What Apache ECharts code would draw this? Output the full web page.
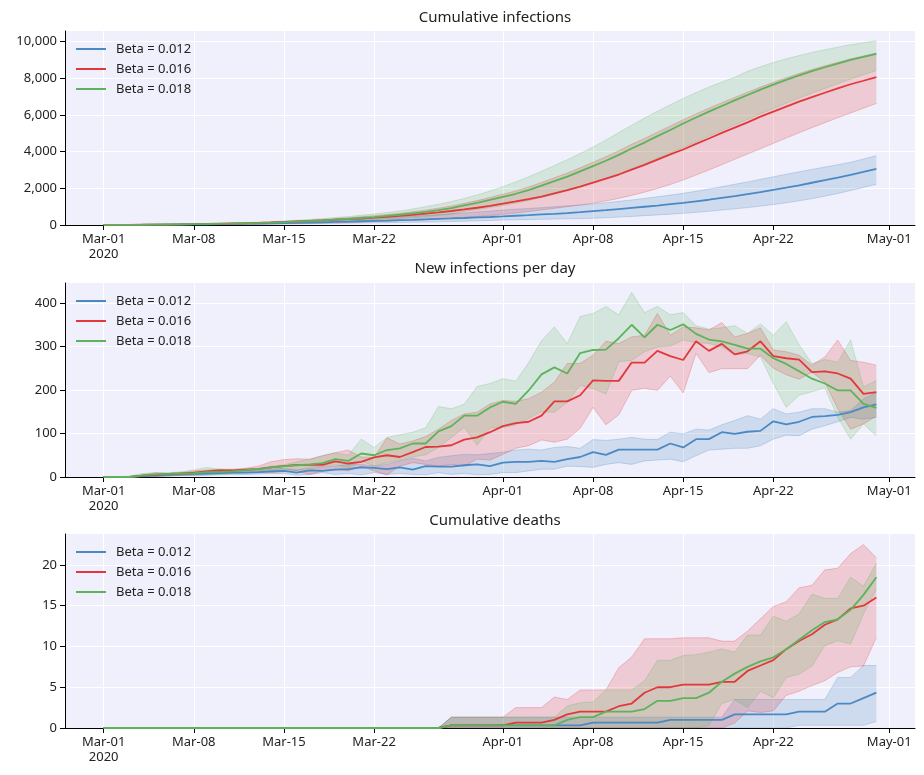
<!DOCTYPE html>
<html>
<head>
<meta charset="utf-8">
<script src="https://cdn.jsdelivr.net/npm/echarts@6/dist/echarts.min.js"></script>
<style>
html,body{margin:0;padding:0;background:#fff;}
#c{width:924px;height:775px;}
</style>
</head>
<body>
<div id="c"></div>
<script>
// ---------- data ----------
// x categories: one per day, 2020-02-27 .. 2020-05-03 (data cover 2020-03-01 .. 2020-04-30)
const axisStart = new Date(Date.UTC(2020, 1, 27));
const dayCategories = Array.from({length: 67}, (_, i) => new Date(axisStart.getTime() + i * 86400000).toISOString().slice(0, 10));
const dataStartIndex = 3; // 2020-03-01
const xTickDates = ['2020-03-01', '2020-03-08', '2020-03-15', '2020-03-22', '2020-04-01', '2020-04-08', '2020-04-15', '2020-04-22', '2020-05-01'];
const xTickLabels = ['Mar-01\n2020', 'Mar-08', 'Mar-15', 'Mar-22', 'Apr-01', 'Apr-08', 'Apr-15', 'Apr-22', 'May-01'];
const seriesNames = ['Beta = 0.012', 'Beta = 0.016', 'Beta = 0.018'];
const panelTitles = ['Cumulative infections', 'New infections per day', 'Cumulative deaths'];
const yTicks1 = [0, 2000, 4000, 6000, 8000, 10000];
const yTicks2 = [0, 100, 200, 300, 400];
const yTicks3 = [0, 5, 10, 15, 20];

// Panel 1: cumulative infections
const cumInfB012 = [10,10,10,12,16,21,27,34,42,51,61,71,82,95,109,119,134,148,165,183,205,226,244,266,283,308,332,356,383,412,437,470,505,540,577,612,653,699,756,807,870,933,996,1059,1136,1204,1291,1378,1481,1580,1684,1790,1918,2039,2166,2304,2444,2587,2736,2896,3063];
const cumInfB012Lo = [6,6,6,7,9,12,15,19,23,28,33,38,43,50,57,62,70,77,86,95,106,116,126,137,148,160,173,188,205,225,248,273,285,297,310,323,337,350,364,395,430,468,508,550,593,636,690,750,815,880,950,1030,1115,1210,1320,1440,1570,1720,1880,2050,2220];
const cumInfB012Hi = [14,14,14,18,24,32,41,51,63,76,90,105,121,140,160,180,203,228,255,285,330,365,400,440,480,525,570,615,660,710,760,815,860,900,945,990,1040,1090,1145,1215,1290,1365,1450,1540,1630,1727,1840,1960,2090,2220,2350,2490,2630,2770,2900,3030,3160,3290,3420,3600,3780];
const cumInfB016 = [10,10,10,13,18,25,33,43,56,71,86,103,121,143,168,196,224,252,288,319,354,399,449,495,552,621,691,764,850,941,1044,1161,1285,1412,1553,1727,1901,2089,2311,2532,2753,3016,3279,3569,3847,4116,4428,4718,5024,5306,5595,5907,6185,6458,6728,6969,7212,7450,7676,7867,8062];
const cumInfB016Lo = [5,5,5,6,8,11,14,18,23,29,35,42,50,59,70,82,95,109,125,142,162,184,208,235,265,298,334,373,416,463,520,580,650,730,820,910,1000,1090,1190,1310,1450,1610,1790,1990,2210,2450,2720,3000,3290,3580,3870,4160,4450,4740,5030,5310,5580,5850,6110,6370,6630];
const cumInfB016Hi = [13,13,13,17,24,32,42,53,66,80,96,116,138,164,193,226,262,300,345,392,450,508,573,643,725,808,915,1035,1180,1330,1500,1680,1860,2070,2320,2580,2830,3120,3420,3720,4050,4400,4720,5060,5400,5740,6060,6370,6670,6960,7240,7520,7780,8030,8260,8480,8680,8870,9060,9220,9380];
const cumInfB018 = [10,10,10,13,19,26,34,43,54,66,79,95,113,135,160,187,217,249,289,327,381,431,493,558,635,712,812,924,1064,1204,1364,1536,1704,1907,2145,2398,2636,2921,3213,3506,3825,4175,4496,4846,5184,5535,5864,6180,6492,6796,7091,7386,7659,7919,8162,8388,8603,8802,9001,9169,9328];
const cumInfB018Lo = [6,6,6,8,12,16,21,27,34,42,51,61,73,87,103,121,141,162,187,213,245,279,318,360,408,460,520,590,740,840,950,1070,1200,1340,1500,1680,1870,2080,2300,2540,2790,3060,3340,3630,3930,4230,4540,4850,5160,5460,5760,6060,6350,6640,6920,7190,7450,7710,7960,8200,8430];
const cumInfB018Hi = [15,15,16,20,27,36,46,58,72,88,106,128,153,183,218,258,302,350,405,462,528,600,680,770,870,1000,1130,1280,1450,1640,1850,2090,2350,2630,2930,3240,3560,3900,4250,4640,5040,5440,5830,6200,6560,6900,7220,7520,7800,8060,8380,8630,8860,9060,9240,9410,9560,9700,9830,9940,10050];

// Panel 2: new infections per day
const newInfB012 = [0,0,0,2,4,5,6,7,8,9,10,10,11,13,14,10,15,14,17,18,22,21,18,22,17,25,24,24,27,29,25,33,35,35,37,35,41,46,57,51,63,63,63,63,77,68,87,87,103,99,104,106,128,121,127,138,140,143,149,160,167];
const newInfB012Lo = [0,0,0,0,1,2,3,3,4,5,6,6,7,8,8,4,6,10,6,8,5,10,6,8,6,5,10,6,8,5,6,10,10,14,18,18,25,24,22,29,33,29,37,39,41,35,49,62,64,66,66,72,87,96,95,110,118,127,137,133,137];
const newInfB012Hi = [0,0,0,4,6,7,8,9,10,12,13,14,15,18,20,16,20,23,25,29,29,25,29,37,43,37,45,49,52,51,54,57,62,64,62,68,70,66,86,84,87,91,87,86,103,99,110,108,120,130,141,133,157,145,149,157,157,149,153,180,194];
const newInfB016 = [0,0,0,3,5,7,8,10,13,15,15,17,18,22,25,28,28,28,36,31,35,45,50,46,57,69,70,73,86,91,103,117,124,127,141,174,174,188,222,221,221,263,263,290,278,269,312,290,306,282,289,312,278,273,270,241,243,238,226,191,195];
const newInfB016Lo = [0,0,0,0,1,3,4,5,7,8,9,10,10,10,12,14,6,14,18,14,25,14,5,25,33,29,25,29,25,41,39,52,66,72,85,80,87,112,160,120,143,199,204,199,232,193,284,240,249,249,249,280,250,235,225,241,218,157,110,122,140];
const newInfB016Hi = [0,0,0,5,10,8,10,14,16,18,18,20,25,35,40,42,41,49,56,62,46,45,90,76,83,93,110,130,145,149,168,176,174,180,195,218,261,261,280,312,307,322,326,376,326,345,343,338,355,322,330,343,292,288,280,257,276,315,268,264,257];
const newInfB018 = [0,0,0,3,6,7,8,9,11,12,13,16,18,22,25,27,29,32,41,37,54,50,62,66,77,77,105,117,141,141,160,173,168,199,236,252,238,285,292,293,319,350,321,350,338,351,329,316,312,304,295,295,273,260,243,226,215,199,199,168,159];
const newInfB018Lo = [0,0,0,0,2,3,4,4,5,6,8,10,12,15,18,15,22,25,28,22,37,25,33,39,46,51,68,91,114,73,113,114,120,135,150,149,172,211,203,191,265,268,288,299,301,315,309,307,299,281,284,276,215,160,188,196,205,137,87,122,95];
const newInfB018Hi = [0,0,2,8,10,10,12,16,22,18,16,18,20,25,28,35,41,49,56,50,87,68,91,97,103,113,162,157,167,208,215,226,220,263,313,345,307,369,376,392,373,424,378,392,373,378,348,340,343,348,330,352,326,357,304,261,270,264,315,207,222];

// Panel 3: cumulative deaths
const deathsB012 = [0,0,0,0,0,0,0,0,0,0,0,0,0,0,0,0,0,0,0,0,0,0,0,0,0,0,0,0.33,0.33,0.33,0.33,0.33,0.33,0.33,0.33,0.33,0.33,0.33,0.67,0.67,0.67,0.67,0.67,0.67,1,1,1,1,1,1.67,1.67,1.67,1.67,1.67,2,2,2,3,3,3.67,4.33];
const deathsB012Lo = [0,0,0,0,0,0,0,0,0,0,0,0,0,0,0,0,0,0,0,0,0,0,0,0,0,0,0,0,0,0,0,0,0,0,0,0,0,0,0,0,0,0,0,0,0,0,0,0,0,0,0,0,0,0,0.33,0.33,0.33,0.33,0.33,0.33,0.8];
const deathsB012Hi = [0,0,0,0,0,0,0,0,0,0,0,0,0,0,0,0,0,0,0,0,0,0,0,0,0,0,0,1.33,1.33,1.33,1.33,1.33,1.33,1.33,1.33,1.33,1.33,1.33,1.33,1.33,1.33,1.33,1.33,1.33,1.33,1.33,1.33,1.33,1.33,3.5,3.5,3.5,3.5,3.5,3.5,3.5,3.5,6.2,6.2,7.67,7.67];
const deathsB016 = [0,0,0,0,0,0,0,0,0,0,0,0,0,0,0,0,0,0,0,0,0,0,0,0,0,0,0,0.33,0.33,0.33,0.33,0.33,0.67,0.67,0.67,1,1.67,2,2,2,2.67,3,4.33,5,5,5.33,5.33,5.33,5.67,5.67,7,7.67,8.33,9.67,10.67,11.5,12.67,13.33,14.67,15,16];
const deathsB016Lo = [0,0,0,0,0,0,0,0,0,0,0,0,0,0,0,0,0,0,0,0,0,0,0,0,0,0,0,0,0,0,0,0,0,0,0,0,0,0,0,0,0,0,0,0,0,0,0,0,0,0.6,2.1,1.9,2.1,4,4.5,5.2,5.8,6.8,7.5,7.6,11.1];
const deathsB016Hi = [0,0,0,0,0,0,0,0,0,0,0,0,0,0,0,0,0,0,0,0,0,0,0,0,0,0,0,1.33,1.33,1.33,1.33,1.33,2.5,2.5,2.5,3.8,3.5,4.67,4.67,4.67,7.4,8.7,10.95,10.95,10.95,11.07,11.07,11.07,10.66,10.66,11.9,13.4,14.9,15.5,17.2,17.5,19.4,19.6,21.4,22.5,20.9];
const deathsB018 = [0,0,0,0,0,0,0,0,0,0,0,0,0,0,0,0,0,0,0,0,0,0,0,0,0,0,0,0.33,0.33,0.33,0.33,0.33,0.33,0.33,0.33,0.33,1,1.33,1.33,2,2,2,2.33,3.33,3.33,3.67,3.67,4.33,5.67,6.67,7.5,8.17,8.67,9.67,10.83,12,13,13.33,14.5,16.33,18.5];
const deathsB018Lo = [0,0,0,0,0,0,0,0,0,0,0,0,0,0,0,0,0,0,0,0,0,0,0,0,0,0,0,0,0,0,0,0,0,0,0,0,0,0,0,0,0,0,0,0,0,0,0,0.3,3,3.5,2.5,4.5,3.7,6.2,6.6,7.6,10.1,10.7,10.3,14,17];
const deathsB018Hi = [0,0,0,0,0,0,0,0,0,0,0,0,0,0,0,0,0,0,0,0,0,0,0,0,0,0,0,1.33,1.33,1.33,1.33,1.33,1.33,1.33,1.33,1.33,2.7,3.1,3.2,4.67,4.67,4.67,5.8,8.3,8.3,8.9,9,9.3,9.7,9.3,11.4,11.4,13.7,13.1,14,16.4,15.9,15.9,18.5,17.4,20.2];

// ---------- styling ----------
const lineColors = ['#4a89c4', '#e2383b', '#5db35b'];
const bandColors = ['rgba(55,126,184,0.26)', 'rgba(228,26,28,0.25)', 'rgba(77,175,74,0.24)'];
const bandEdge = ['rgba(55,126,184,0.3)', 'rgba(228,26,28,0.28)', 'rgba(77,175,74,0.28)'];
const FONT = 'Noto Sans';
const TXT = '#222222';

const panels = [
  {mean: [cumInfB012, cumInfB016, cumInfB018], lo: [cumInfB012Lo, cumInfB016Lo, cumInfB018Lo], hi: [cumInfB012Hi, cumInfB016Hi, cumInfB018Hi], yMax: 10580, yTicks: yTicks1, top: 31},
  {mean: [newInfB012, newInfB016, newInfB018], lo: [newInfB012Lo, newInfB016Lo, newInfB018Lo], hi: [newInfB012Hi, newInfB016Hi, newInfB018Hi], yMax: 446, yTicks: yTicks2, top: 283},
  {mean: [deathsB012, deathsB016, deathsB018], lo: [deathsB012Lo, deathsB016Lo, deathsB018Lo], hi: [deathsB012Hi, deathsB016Hi, deathsB018Hi], yMax: 23.8, yTicks: yTicks3, top: 534}
];
const titleCenters = [17, 268, 520];

const tickIdx = new Set(xTickDates.map((d) => dayCategories.indexOf(d)));
const isTick = (idx) => tickIdx.has(idx);
const pad = (arr) => Array(dataStartIndex).fill(null).concat(arr);

const grids = [], xAxes = [], yAxes = [], series = [], legends = [], titles = [];

panels.forEach((p, k) => {
  grids.push({left: 65, width: 850, top: p.top, height: 194, show: true, backgroundColor: '#f0f0fc', borderWidth: 0});
  xAxes.push({
    type: 'category', gridIndex: k, data: dayCategories, boundaryGap: false,
    axisLine: {show: true, onZero: false, lineStyle: {color: '#000', width: 1}},
    axisTick: {show: true, length: 5, lineStyle: {color: '#000'}, interval: isTick, alignWithLabel: true},
    axisLabel: {interval: isTick, color: TXT, fontFamily: FONT, fontSize: 13, margin: 7, lineHeight: 15,
      formatter: (v) => xTickLabels[xTickDates.indexOf(v)] || ''},
    splitLine: {show: true, interval: isTick, lineStyle: {color: '#ffffff', width: 1}}
  });
  yAxes.push({
    type: 'value', gridIndex: k, min: 0, max: p.yMax,
    axisLine: {show: true, onZero: false, lineStyle: {color: '#000', width: 1}},
    axisTick: {show: true, length: 5, lineStyle: {color: '#000'}, customValues: p.yTicks},
    axisLabel: {customValues: p.yTicks, color: TXT, fontFamily: FONT, fontSize: 13, margin: 8,
      formatter: (v) => v.toLocaleString('en-US')},
    splitLine: {show: true, lineStyle: {color: '#ffffff', width: 1}}
  });
  titles.push({text: panelTitles[k], left: 490, textAlign: 'center', top: titleCenters[k] - 14,
    textStyle: {fontFamily: FONT, fontSize: 15, fontWeight: 'normal', color: TXT, lineHeight: 20}});
  // confidence bands (stacked: lower + (upper - lower))
  for (let s = 0; s < 3; s++) {
    const stackId = 'band' + k + '_' + s;
    series.push({
      type: 'line', name: 'band-lo-' + k + '-' + s, xAxisIndex: k, yAxisIndex: k, stack: stackId,
      data: pad(p.lo[s]), showSymbol: false, symbol: 'none', silent: true,
      lineStyle: {color: bandEdge[s], width: 0.8}, z: 1
    });
    series.push({
      type: 'line', name: 'band-hi-' + k + '-' + s, xAxisIndex: k, yAxisIndex: k, stack: stackId,
      data: pad(p.hi[s].map((v, i) => v - p.lo[s][i])), showSymbol: false, symbol: 'none', silent: true,
      lineStyle: {color: bandEdge[s], width: 0.8}, areaStyle: {color: bandColors[s]}, z: 1
    });
  }
  for (let s = 0; s < 3; s++) {
    series.push({
      type: 'line', name: seriesNames[s], xAxisIndex: k, yAxisIndex: k,
      data: pad(p.mean[s]), showSymbol: false, symbol: 'none',
      lineStyle: {color: lineColors[s], width: 1.8}, itemStyle: {color: lineColors[s]}, z: 3
    });
  }
  legends.push({
    data: seriesNames, orient: 'vertical', left: 71, top: p.top + 6,
    icon: 'rect', itemWidth: 30, itemHeight: 2, itemGap: 6,
    textStyle: {fontFamily: FONT, fontSize: 13, color: TXT, lineHeight: 14, padding: [0, 0, 0, 5]},
    selectedMode: false
  });
});

const chart = echarts.init(document.getElementById('c'), null, {renderer: 'canvas'});
chart.setOption({
  animation: false,
  backgroundColor: '#ffffff',
  title: titles,
  grid: grids,
  xAxis: xAxes,
  yAxis: yAxes,
  legend: legends,
  series: series
});
</script>
</body>
</html>
